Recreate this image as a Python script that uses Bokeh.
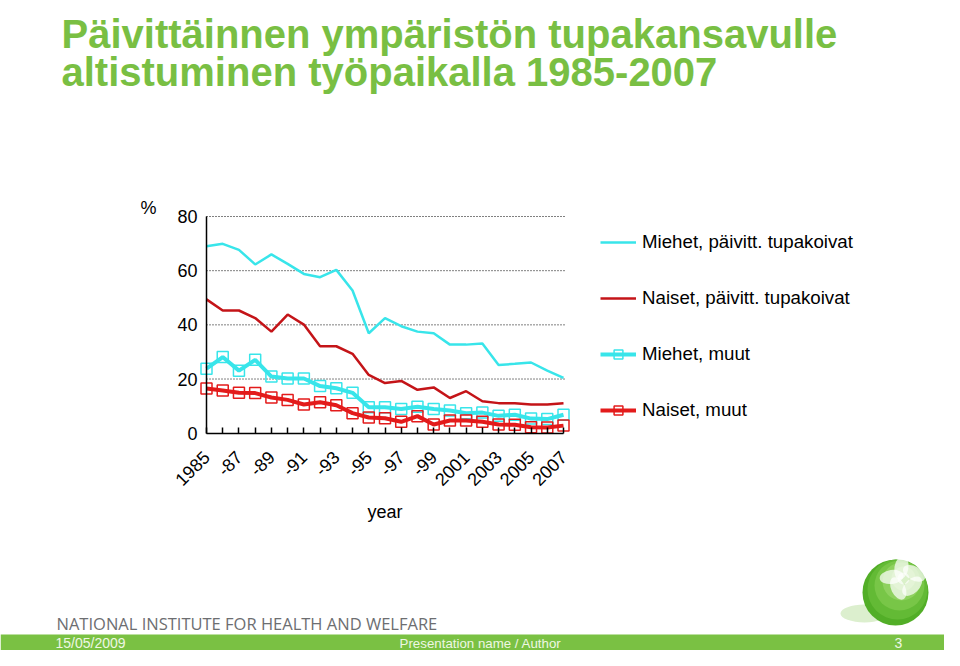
import math
from bokeh.plotting import figure
from bokeh.models import Range1d, FixedTicker, Legend, LegendItem, LinearAxis
from bokeh.embed import file_html
from bokeh.resources import INLINE
from bokeh.core.properties import value

# ---------------- data ----------------
years = list(range(1985, 2008))
miehet_paivitt = [69.0, 69.9, 67.7, 62.3, 66.0, 62.5, 58.8, 57.6, 60.3, 52.7, 36.9, 42.5,
                  39.5, 37.5, 36.9, 32.7, 32.7, 33.1, 25.2, 25.6, 26.1, 23.1, 20.4]
naiset_paivitt = [49.4, 45.3, 45.3, 42.5, 37.5, 43.8, 40.1, 32.1, 32.1, 29.3, 21.5, 18.5,
                  19.3, 16.0, 16.9, 13.0, 15.5, 11.8, 11.1, 11.1, 10.6, 10.6, 11.1]
miehet_muut = [23.8, 28.1, 23.1, 27.1, 20.9, 20.2, 20.2, 17.4, 16.6, 14.9, 9.6, 9.6,
               8.9, 9.8, 8.9, 8.4, 7.4, 7.6, 6.4, 6.8, 5.4, 5.2, 6.8]
naiset_muut = [16.5, 15.8, 14.9, 14.8, 13.2, 12.3, 10.6, 11.4, 10.3, 7.4, 5.8, 5.5,
               4.2, 6.3, 3.2, 4.7, 4.7, 4.2, 3.2, 3.1, 2.2, 2.1, 2.8]
series_names = ["Miehet, päivitt. tupakoivat", "Naiset, päivitt. tupakoivat",
                "Miehet, muut", "Naiset, muut"]
tick_years = [1985, 1987, 1989, 1991, 1993, 1995, 1997, 1999, 2001, 2003, 2005, 2007]
tick_labels = ["1985", "-87", "-89", "-91", "-93", "-95", "-97", "-99",
               "2001", "2003", "2005", "2007"]
y_ticks = [0, 20, 40, 60, 80]
grid_values = [20, 40, 60, 80]
title_lines = ["Päivittäinnen ympäristön tupakansavulle",
               "altistuminen työpaikalla 1985-2007"]

FONT = "Liberation Sans"
GREEN = "#79BF43"
CYAN = "#38E5EA"
DARKRED = "#C41418"
RED = "#E31B1B"

# ---------------- layout constants (page pixels) ----------------
W, H = 944, 650
X_1985, X_2007 = 206.0, 563.0          # where the first / last year sit
Y_ZERO, Y_80 = 432.7, 216.0            # where 0 % and 80 % sit
ppy = (X_2007 - X_1985) / (years[-1] - years[0])
ppu = (Y_ZERO - Y_80) / 80.0
data_x = Range1d(years[0] - X_1985 / ppy, years[0] + (W - X_1985) / ppy)
data_y = Range1d(-(H - Y_ZERO) / ppu, Y_ZERO / ppu)

p = figure(width=W, height=H, x_range=Range1d(0, W), y_range=Range1d(H, 0),
           x_axis_type=None, y_axis_type=None, output_backend="svg",
           toolbar_location=None, min_border=0)
p.extra_x_ranges = {"data": data_x}
p.extra_y_ranges = {"data": data_y}
p.outline_line_color = None
p.background_fill_color = "white"
p.border_fill_color = "white"
D = dict(x_range_name="data", y_range_name="data")

# dotted horizontal grid
grid_end = years[-1] + 0.15
p.segment(x0=[years[0]] * len(grid_values), x1=[grid_end] * len(grid_values),
          y0=grid_values, y1=grid_values, line_color="black", line_width=1,
          line_dash="1 2", **D)

# axes drawn at the chart position
overrides = {y: "" for y in years}
for yv, lab in zip(tick_years, tick_labels):
    overrides[yv] = lab
xa = LinearAxis(fixed_location=0, bounds=(years[0], years[-1]),
                ticker=FixedTicker(ticks=years), **D)
xa.major_label_overrides = overrides
xa.major_label_orientation = math.pi / 4
xa.major_tick_in = 6
xa.major_tick_out = 0
xa.minor_tick_line_color = None
xa.axis_line_color = "black"
xa.axis_line_width = 1.5
xa.major_tick_line_color = "black"
xa.major_tick_line_width = 1.5
xa.major_label_text_font = FONT
xa.major_label_text_font_size = "18px"
xa.major_label_text_color = "black"
xa.major_label_standoff = 21
xa.axis_label = "year"
xa.axis_label_text_font = FONT
xa.axis_label_text_font_size = "18px"
xa.axis_label_text_font_style = "normal"
xa.axis_label_text_color = "black"
xa.axis_label_standoff = 7
p.add_layout(xa, "below")

ya = LinearAxis(fixed_location=years[0], bounds=(0, 80), ticker=FixedTicker(ticks=y_ticks), **D)
ya.major_tick_in = 0
ya.major_tick_out = 0
ya.minor_tick_line_color = None
ya.axis_line_color = "black"
ya.axis_line_width = 1.5
ya.major_label_text_font = FONT
ya.major_label_text_font_size = "18px"
ya.major_label_text_color = "black"
ya.major_label_standoff = 9
p.add_layout(ya, "left")

# series
r1 = p.line(years, miehet_paivitt, line_color=CYAN, line_width=2.5, **D)
r2 = p.line(years, naiset_paivitt, line_color=DARKRED, line_width=2.5, **D)
r3 = p.line(years, miehet_muut, line_color=CYAN, line_width=4, **D)
r3m = p.scatter(years, miehet_muut, marker="square", size=11, line_color=CYAN,
                fill_alpha=0, line_width=1.5, **D)
r4 = p.line(years, naiset_muut, line_color=RED, line_width=4, **D)
r4m = p.scatter(years, naiset_muut, marker="square", size=11, line_color=RED,
                fill_alpha=0, line_width=1.5, **D)

legend = Legend(items=[LegendItem(label=series_names[0], renderers=[r1]),
                       LegendItem(label=series_names[1], renderers=[r2]),
                       LegendItem(label=series_names[2], renderers=[r3, r3m]),
                       LegendItem(label=series_names[3], renderers=[r4, r4m])],
                location=(600, H - 421))
legend.label_text_font = FONT
legend.label_text_font_size = "18.7px"
legend.label_text_color = "black"
legend.background_fill_alpha = 0
legend.border_line_color = None
legend.padding = 0
legend.margin = 0
legend.spacing = 34
legend.label_height = 22
legend.glyph_height = 22
legend.glyph_width = 36
legend.label_standoff = 6
p.add_layout(legend)

# title and unit
p.text(x=[61], y=[33], text=[title_lines[0]], text_font=value(FONT), text_font_size="40px",
       text_font_style="bold", text_color=GREEN, text_baseline="alphabetic", text_align="left")
p.text(x=[61], y=[71], text=[title_lines[1]], text_font=value(FONT), text_font_size="40px",
       text_font_style="bold", text_color=GREEN, text_baseline="alphabetic", text_align="left")
p.text(x=[140], y=[207], text=["%"], text_font=value(FONT), text_font_size="18px",
       text_color="black", text_baseline="alphabetic", text_align="left")

# footer
p.text(x=[56], y=[623], text=["NATIONAL INSTITUTE FOR HEALTH AND WELFARE"],
       text_font=value("Open Sans"), text_font_size="16.5px", text_color="#6D6E71",
       text_baseline="alphabetic", text_align="left")
p.quad(left=[0], right=[W], top=[634], bottom=[H], fill_color="#7AC143", line_color=None)
p.text(x=[55], y=[642.5], text=["15/05/2009"], text_font=value(FONT), text_font_size="14px",
       text_color="#EEF7E4", text_baseline="middle", text_align="left")
p.text(x=[480], y=[642.5], text=["Presentation name / Author"], text_font=value(FONT),
       text_font_size="13.3px", text_color="#EEF7E4", text_baseline="middle", text_align="center")
p.text(x=[898], y=[642.5], text=["3"], text_font=value(FONT), text_font_size="14px",
       text_color="#EEF7E4", text_baseline="middle", text_align="center")

# logo: green sphere with a white flower
p.ellipse(x=[864], y=[613], width=[48], height=[18], fill_color="#D3EBC2", fill_alpha=0.8,
          line_color=None)
p.circle(x=[895], y=[592], radius=33, fill_color="#52AE27", line_color=None)
p.circle(x=[897], y=[589], radius=30, fill_color="#63BA35", line_color=None)
p.circle(x=[899], y=[585], radius=25, fill_color="#78C647", line_color=None)
p.circle(x=[901], y=[581], radius=19, fill_color="#8ED15E", line_color=None)
p.circle(x=[903], y=[578], radius=12, fill_color="#A3DB78", line_color=None)
for ang in [100, 172, 244, 316, 28]:
    a = math.radians(ang)
    p.ellipse(x=[903 + 12 * math.cos(a)], y=[578 - 11 * math.sin(a)], width=[24], height=[14],
              angle=-a, fill_color="white", fill_alpha=0.7, line_color=None)
p.circle(x=[903], y=[578], radius=6, fill_color="white", fill_alpha=0.6, line_color=None)

open("out.html", "w").write(file_html(p, INLINE))
